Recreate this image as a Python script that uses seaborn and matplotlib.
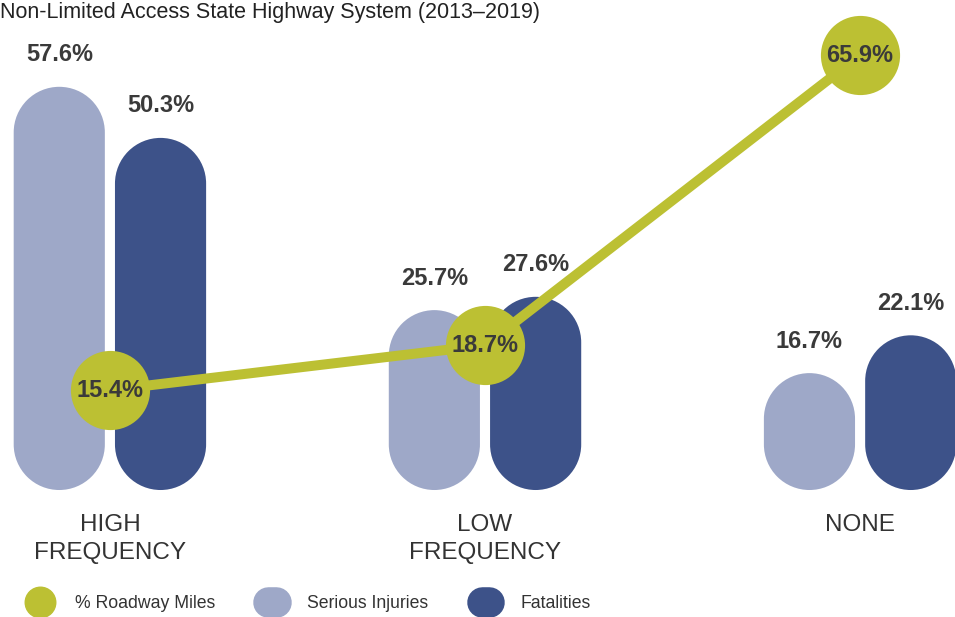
import matplotlib
matplotlib.use("Agg")
import numpy as np
import matplotlib.pyplot as plt
import seaborn as sns
import pandas as pd
from matplotlib.patches import FancyBboxPatch
from matplotlib.lines import Line2D
from matplotlib.path import Path

# data
categories = ["HIGH\nFREQUENCY", "LOW\nFREQUENCY", "NONE"]
serious_injuries = [57.6, 25.7, 16.7]
fatalities = [50.3, 27.6, 22.1]
roadway_miles = [15.4, 18.7, 65.9]
title = "Non-Limited Access State Highway System (2013\u20132019)"

LIGHT = "#9ea8c8"
DARK = "#3d5289"
OLIVE = "#bcc033"
TEXT = "#3a3a3a"

df = pd.DataFrame({
    "category": categories * 2,
    "share": serious_injuries + fatalities,
    "group": ["Serious Injuries"] * 3 + ["Fatalities"] * 3,
})


def pill_style(x0, y0, width, height, mutation_size):
    # stadium shape: half circles on top and bottom
    r = width / 2
    cx = x0 + r
    top = Path.arc(0, 180)
    bot = Path.arc(180, 360)
    v_top = top.vertices * r + [cx, y0 + height - r]
    v_bot = bot.vertices * r + [cx, y0 + r]
    c_bot = bot.codes.copy()
    c_bot[0] = Path.LINETO
    verts = np.concatenate([v_top, v_bot, v_top[:1]])
    codes = np.concatenate([top.codes, c_bot, [Path.CLOSEPOLY]])
    return Path(verts, codes)


sns.set_theme(style="white")
plt.rcParams["font.family"] = ["Liberation Sans", "DejaVu Sans"]

fig = plt.figure(figsize=(9.55, 6.17), dpi=100)
ax = fig.add_axes([0, 0, 1, 1])
sns.barplot(data=df, x="category", y="share", hue="group",
            palette=[LIGHT, DARK], width=0.54, gap=0.1, saturation=1,
            legend=False, ax=ax)
ax.set_xlim(-0.293, 2.253)
ax.set_ylim(-18.14, 70)
ax.axis("off")

# turn the bars into pills
p0 = ax.transData.transform((0, 0))
p1 = ax.transData.transform((1, 1))
aspect = (p1[0] - p0[0]) / (p1[1] - p0[1])
for bar in list(ax.patches):
    x, y = bar.get_x(), bar.get_y()
    w, h = bar.get_width(), bar.get_height()
    if h <= 0:
        continue
    pill = FancyBboxPatch((x, y), w, h, boxstyle=pill_style,
                          mutation_aspect=aspect,
                          fc=bar.get_facecolor(), ec="none")
    bar.remove()
    ax.add_patch(pill)
    ax.annotate(f"{h:.1f}%", (x + w / 2, y + h), xytext=(0, 23),
                textcoords="offset points", ha="center", va="center",
                fontsize=17, fontweight="bold", color=TEXT)

for i, c in enumerate(categories):
    ax.annotate(c, (i, 0), xytext=(0, -17), textcoords="offset points",
                ha="center", va="top", fontsize=17.5, color="#333333",
                linespacing=1.35)

# roadway miles line on its own axis
ax2 = ax.twinx()
sns.lineplot(x=list(range(len(roadway_miles))), y=roadway_miles, ax=ax2,
             color=OLIVE, lw=7.2, marker="o", markersize=57,
             markeredgewidth=0)
ax2.set_yscale("log")
ax2.set_ylim(5.75, 83.7)
ax2.set_xlim(-0.293, 2.253)
ax2.axis("off")
for i, v in enumerate(roadway_miles):
    ax2.text(i, v, f"{v:.1f}%", ha="center", va="center",
             fontsize=17, fontweight="bold", color=TEXT)

fig.text(0.0, 1 - 18 / 617, title, fontsize=15.5, ha="left",
         va="baseline", color="#222222")

handles = [
    Line2D([], [], marker="o", ms=22, color=OLIVE, lw=0),
    Line2D([0], [0], color=LIGHT, lw=22, solid_capstyle="round"),
    Line2D([0], [0], color=DARK, lw=22, solid_capstyle="round"),
]
fig.legend(handles, ["% Roadway Miles", "Serious Injuries", "Fatalities"],
           loc="center left", bbox_to_anchor=(36 / 955, 13 / 617),
           ncol=3, frameon=False, fontsize=12.7, handlelength=0.43,
           handletextpad=1.79, columnspacing=3.0, borderpad=0,
           borderaxespad=0, labelcolor="#333333")

fig.savefig("out.png", dpi=100)
